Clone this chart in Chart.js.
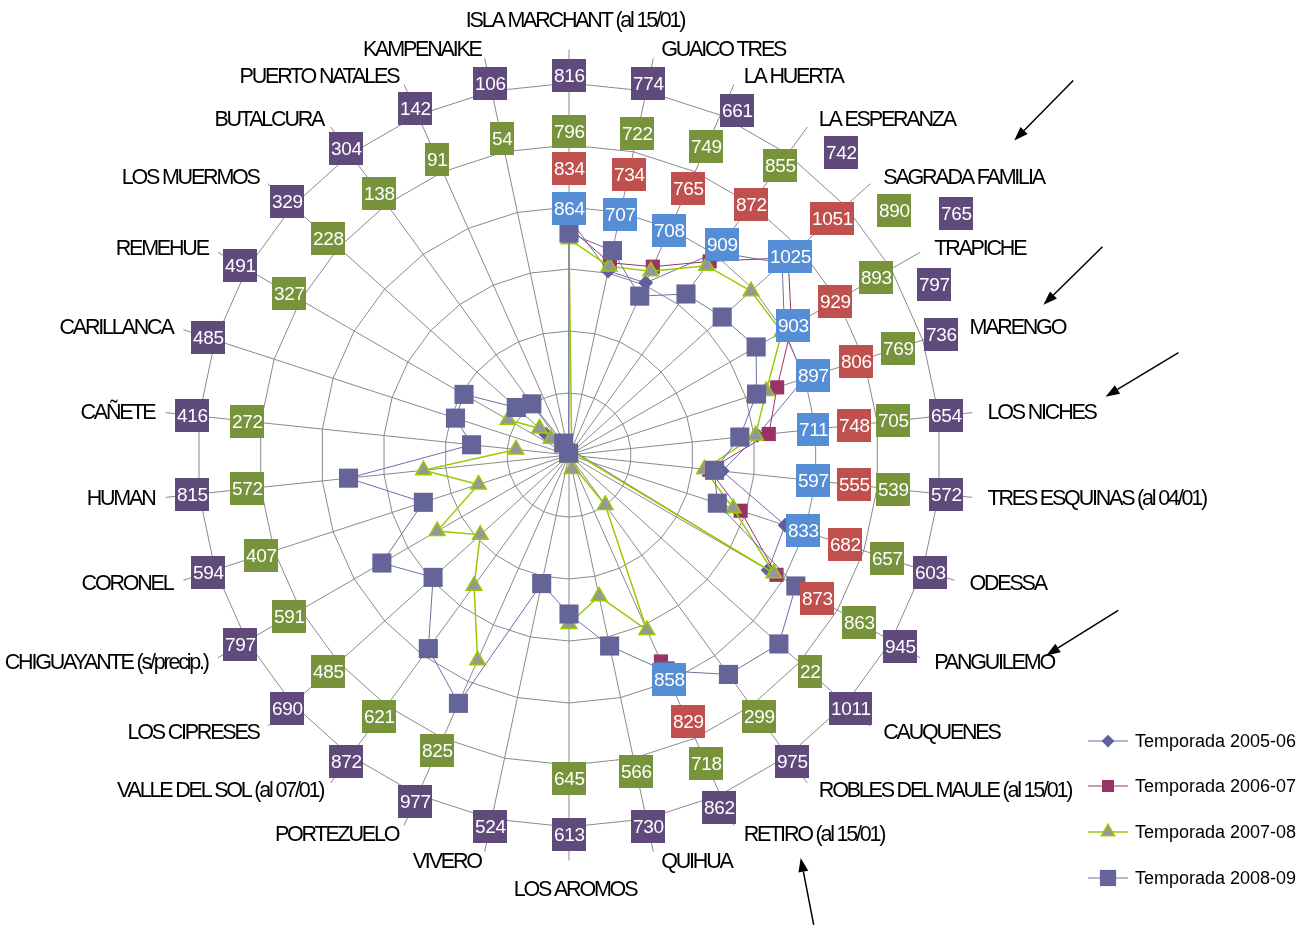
<!DOCTYPE html>
<html lang="es">
<head>
<meta charset="utf-8">
<title>Temporadas 2005-06 a 2008-09</title>
<script src="https://cdn.jsdelivr.net/npm/chart.js@4.4.1/dist/chart.umd.min.js"></script>
<style>
  html, body { margin: 0; padding: 0; background: #fff; }
  #wrap { position: relative; width: 1301px; height: 927px; }
</style>
</head>
<body>
<div id="wrap"><canvas id="grafico"></canvas></div>
<script>
// --- DATOS ---
const estaciones = ['ISLA MARCHANT (al 15/01)', 'GUAICO TRES', 'LA HUERTA', 'LA ESPERANZA', 'SAGRADA FAMILIA',
  'TRAPICHE', 'MARENGO', 'LOS NICHES', 'TRES ESQUINAS (al 04/01)', 'ODESSA', 'PANGUILEMO', 'CAUQUENES',
  'ROBLES DEL MAULE (al 15/01)', 'RETIRO (al 15/01)', 'QUIHUA', 'LOS AROMOS', 'VIVERO', 'PORTEZUELO',
  'VALLE DEL SOL (al 07/01)', 'LOS CIPRESES', 'CHIGUAYANTE (s/precip.)', 'CORONEL', 'HUMAN', 'CAÑETE',
  'CARILLANCA', 'REMEHUE', 'LOS MUERMOS', 'BUTALCURA', 'PUERTO NATALES', 'KAMPENAIKE'];

const temporadas = ['Temporada 2005-06', 'Temporada 2006-07', 'Temporada 2007-08', 'Temporada 2008-09'];

const t2005 = [864, 707, 708, 909, 1025, 903, 897, 711, 597, 833, 842, 0, null, 858, null,
  null, null, null, null, null, null, null, null, null, null, null, null, null, null, null];
const t2006 = [834, 734, 765, 872, 1051, 929, 806, 748, 555, 682, 873, null, null, 829, null,
  null, null, null, null, null, null, null, null, null, null, null, null, null, null, null];
const t2007 = [796, 722, 749, 855, 890, 893, 769, 705, 539, 657, 863, 22, 299, 718, 566,
  645, null, 825, 621, 485, 591, 407, 572, 272, null, 327, 228, 138, 91, 54];
const t2008 = [816, 774, 661, 742, 765, 797, 736, 654, 572, 603, 945, 1011, 975, 862, 730,
  613, 524, 977, 872, 690, 797, 594, 815, 416, 485, 491, 329, 304, 142, 106];

// puntos de 2005-06 que no llevan cuadro con valor
const sinEtiqueta2005 = [10, 11];

// estaciones destacadas con flecha
const destacadas = [4, 6, 7, 10, 13];

const ejeMin = 100, ejeMax = 1300, ejePaso = 200;

// --- COLORES ---
const colores = {
  c2005: '#5f5f9c', l2005: '#6e6ea8',
  c2006: '#993366',
  c2007: '#969696', l2007: '#99cc00',
  c2008: '#646498',
  caja2005: '#558ed5', caja2006: '#c0504d', caja2007: '#77933c', caja2008: '#604a7b',
  grilla: '#8a8a8a'
};
const FUENTE = '"Liberation Sans", Arial, Helvetica, sans-serif';
const FUENTE_ROTULO = '21.5px ' + FUENTE;
const FUENTE_CAJA = '19px ' + FUENTE;

// cuadros de valores, de adentro hacia afuera
const capas = [
  { datos: t2005, color: colores.caja2005, radio: 0.66, ocultar: sinEtiqueta2005 },
  { datos: t2006, color: colores.caja2006, radio: 0.77, ocultar: [] },
  { datos: t2007, color: colores.caja2007, radio: 0.87, ocultar: [] },
  { datos: t2008, color: colores.caja2008, radio: 1.02, ocultar: [] }
];

// flechas: desplazamiento de la punta y de la cola respecto del rótulo
const flechas = {
  4:  { punta: [131, -37], cola: [59, -60] },
  6:  { punta: [74, -22],  cola: [59, -58] },
  7:  { punta: [118, -15], cola: [73, -44] },
  10: { punta: [112, -7],  cola: [72, -45] },
  13: { punta: [57, 24],   cola: [13, 67] }
};

const anguloDe = (i) => i * 360 / estaciones.length;

// posición de los rótulos de estación (se usa para dibujar y para no taparlos)
function disponerRotulos(chart) {
  const scale = chart.scales.r;
  const ctx = chart.ctx;
  ctx.save();
  ctx.font = FUENTE_ROTULO;
  ctx.letterSpacing = '-2.2px';
  const lista = estaciones.map((nombre, i) => {
    const ang = anguloDe(i);
    const p = scale.getPointPosition(i, scale.drawingArea * 1.115);
    const w = ctx.measureText(nombre).width;
    let y = p.y, x, align, left;
    if (ang === 0 || ang === 180) {
      align = 'center';
      y += ang === 0 ? -20 : 19;
      x = p.x + 6;
      left = x - w / 2;
    } else if (ang < 180) {
      align = 'left';
      x = p.x + 6;
      left = x;
    } else {
      align = 'right';
      x = p.x - 2;
      left = x - w;
    }
    return { nombre, x, y, align, ancla: { x: ang < 180 && ang !== 0 ? p.x + 6 : p.x - 4, y },
      caja: { l: left - 3, r: left + w + 3, t: y - 14, b: y + 15 } };
  });
  ctx.restore();
  return lista;
}

const choca = (a, b) => a.l < b.r && a.r > b.l && a.t < b.b && a.b > b.t;

// --- PLUGIN: prolongación de los radios hasta los rótulos ---
const lineasGuia = {
  id: 'lineasGuia',
  beforeDatasetsDraw(chart) {
    const scale = chart.scales.r;
    const ctx = chart.ctx;
    ctx.save();
    ctx.strokeStyle = colores.grilla;
    ctx.lineWidth = 1;
    for (let i = 0; i < estaciones.length; i++) {
      const a = scale.getPointPosition(i, scale.drawingArea);
      const b = scale.getPointPosition(i, scale.drawingArea * 1.09);
      ctx.beginPath();
      ctx.moveTo(a.x, a.y);
      ctx.lineTo(b.x, b.y);
      ctx.stroke();
    }
    ctx.restore();
  }
};

// --- PLUGIN: cuadros con los valores ---
const cajasValores = {
  id: 'cajasValores',
  afterDatasetsDraw(chart) {
    const scale = chart.scales.r;
    const ctx = chart.ctx;
    const rotulos = disponerRotulos(chart);
    ctx.save();
    ctx.font = FUENTE_CAJA;
    ctx.letterSpacing = '-0.3px';
    ctx.textAlign = 'left';
    ctx.textBaseline = 'middle';
    const h = 33;
    for (let i = 0; i < estaciones.length; i++) {
      const ang = anguloDe(i);
      const rad = ang * Math.PI / 180;
      const s = Math.abs(Math.sin(rad)), c = Math.abs(Math.cos(rad));
      const giro = ang > 0 && ang < 180 ? 1 : -1;
      let prevR = null, prevExt = 0;
      capas.forEach(capa => {
        const v = capa.datos[i];
        if (v === null || capa.ocultar.includes(i)) return;
        const txt = String(v);
        const w = Math.round(ctx.measureText(txt).width + 3);
        const ext = w * s + h * c;
        let r = Math.max(scale.drawingArea * capa.radio, scale.getDistanceFromCenterForValue(v) + 10);
        if (prevR !== null) r = Math.max(r, prevR + (prevExt + ext) / 2 + 2);
        // se gira el cuadro hasta que no tape ningún rótulo
        let p, x0, y0;
        for (let d = 0; d <= 18; d++) {
          p = scale.getPointPosition(i, r, giro * d * Math.PI / 180);
          x0 = Math.round(p.x - w / 2);
          y0 = Math.round(p.y - h / 2);
          const caja = { l: x0, r: x0 + w, t: y0, b: y0 + h };
          if (!rotulos.some(rt => choca(caja, rt.caja))) break;
        }
        ctx.fillStyle = capa.color;
        ctx.fillRect(x0, y0, w, h);
        ctx.save();
        ctx.beginPath();
        ctx.rect(x0, y0, w, h);
        ctx.clip();
        ctx.fillStyle = '#ffffff';
        ctx.fillText(txt, x0 + 2, y0 + h / 2 + 1);
        ctx.restore();
        prevR = r;
        prevExt = ext;
      });
    }
    ctx.restore();
  }
};

// --- PLUGIN: rótulos de estaciones, flechas y leyenda ---
const rotulosLeyenda = {
  id: 'rotulosLeyenda',
  afterDraw(chart) {
    const ctx = chart.ctx;
    const rotulos = disponerRotulos(chart);
    ctx.save();

    // rótulos de estaciones
    ctx.font = FUENTE_ROTULO;
    ctx.letterSpacing = '-2.2px';
    ctx.fillStyle = '#000';
    ctx.textBaseline = 'middle';
    rotulos.forEach(rt => {
      ctx.textAlign = rt.align;
      ctx.fillText(rt.nombre, rt.x, rt.y + 1);
    });

    // flechas
    ctx.strokeStyle = '#000';
    ctx.fillStyle = '#000';
    ctx.lineWidth = 1.5;
    destacadas.forEach(i => {
      const f = flechas[i];
      const a = rotulos[i].ancla;
      const tx = a.x + f.punta[0], ty = a.y + f.punta[1];
      const cx = tx + f.cola[0], cy = ty + f.cola[1];
      const ang = Math.atan2(ty - cy, tx - cx);
      const largo = 14, ancho = 5;
      const bx = tx - largo * Math.cos(ang), by = ty - largo * Math.sin(ang);
      ctx.beginPath();
      ctx.moveTo(cx, cy);
      ctx.lineTo(bx, by);
      ctx.stroke();
      ctx.beginPath();
      ctx.moveTo(tx, ty);
      ctx.lineTo(bx + ancho * Math.sin(ang), by - ancho * Math.cos(ang));
      ctx.lineTo(bx - ancho * Math.sin(ang), by + ancho * Math.cos(ang));
      ctx.closePath();
      ctx.fill();
    });

    // leyenda
    ctx.letterSpacing = '0px';
    ctx.font = '18px ' + FUENTE;
    ctx.textAlign = 'left';
    const filasY = [741, 786, 832, 878];
    chart.data.datasets.forEach((ds, k) => {
      const y = filasY[k];
      ctx.strokeStyle = ds.borderColor;
      ctx.lineWidth = ds.borderWidth;
      ctx.beginPath();
      ctx.moveTo(1088, y);
      ctx.lineTo(1128, y);
      ctx.stroke();
      ctx.fillStyle = ds.pointBackgroundColor;
      ctx.strokeStyle = ds.pointBorderColor;
      ctx.lineWidth = ds.pointBorderWidth;
      Chart.helpers.drawPoint(ctx, {
        pointStyle: ds.pointStyle,
        radius: ds.pointRadius * 0.85,
        borderWidth: ds.pointBorderWidth,
        rotation: 0
      }, 1108, y);
      ctx.fillStyle = '#000';
      ctx.fillText(ds.label, 1135, y + 1);
    });
    ctx.restore();
  }
};

// --- GRÁFICO ---
new Chart(document.getElementById('grafico').getContext('2d'), {
  type: 'radar',
  data: {
    labels: estaciones,
    datasets: [
      { label: temporadas[0], data: t2005, order: 4,
        borderColor: colores.l2005, borderWidth: 1,
        pointStyle: 'rectRot', pointRadius: 7.5,
        pointBackgroundColor: colores.c2005, pointBorderColor: colores.c2005, pointBorderWidth: 0 },
      { label: temporadas[1], data: t2006, order: 3,
        borderColor: colores.c2006, borderWidth: 1,
        pointStyle: 'rect', pointRadius: 10,
        pointBackgroundColor: colores.c2006, pointBorderColor: colores.c2006, pointBorderWidth: 0 },
      { label: temporadas[2], data: t2007, order: 2,
        borderColor: colores.l2007, borderWidth: 1.5,
        pointStyle: 'triangle', pointRadius: 9,
        pointBackgroundColor: colores.c2007, pointBorderColor: colores.l2007, pointBorderWidth: 1.5 },
      { label: temporadas[3], data: t2008, order: 1,
        borderColor: colores.l2005, borderWidth: 1,
        pointStyle: 'rect', pointRadius: 13.5,
        pointBackgroundColor: colores.c2008, pointBorderColor: colores.c2008, pointBorderWidth: 0 }
    ]
  },
  options: {
    responsive: true,
    maintainAspectRatio: false,
    animation: false,
    layout: { padding: { left: 197, top: 83, right: 360, bottom: 100 } },
    elements: { line: { tension: 0, fill: false } },
    spanGaps: false,
    scales: {
      r: {
        min: ejeMin, max: ejeMax, beginAtZero: false,
        ticks: { display: false, stepSize: ejePaso },
        grid: { color: colores.grilla, lineWidth: 1 },
        angleLines: { color: colores.grilla, lineWidth: 1 },
        pointLabels: { display: false }
      }
    },
    plugins: { legend: { display: false }, tooltip: { enabled: false } }
  },
  plugins: [lineasGuia, cajasValores, rotulosLeyenda]
});
</script>
</body>
</html>
